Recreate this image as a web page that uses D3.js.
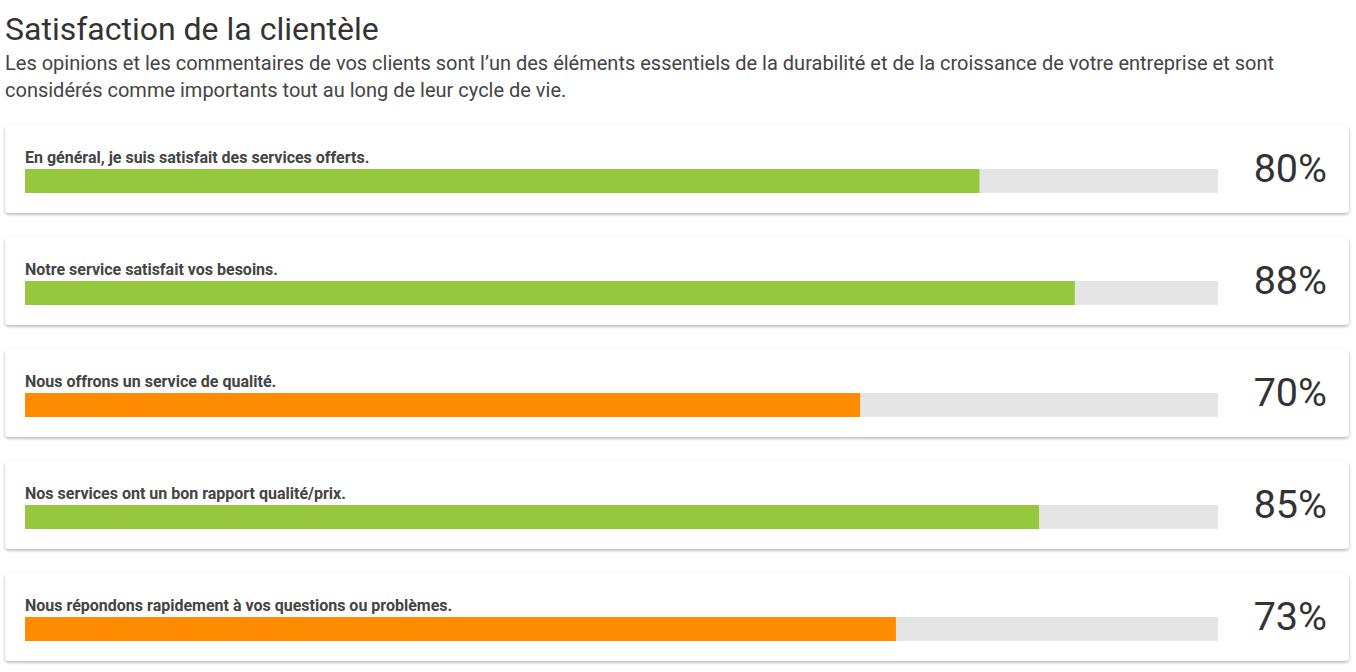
<!DOCTYPE html>
<html>
<head>
<meta charset="utf-8">
<script src="https://cdn.jsdelivr.net/npm/d3@7"></script>
<style>
  body { margin: 0; background: #fff; font-family: Roboto, "Noto Sans", sans-serif; }
</style>
</head>
<body>
<script>
// chart data
var title = "Satisfaction de la clientèle";
var subtitleLines = [
  "Les opinions et les commentaires de vos clients sont l\u2019un des éléments essentiels de la durabilité et de la croissance de votre entreprise et sont",
  "considérés comme importants tout au long de leur cycle de vie."
];
var questions = [
  "En général, je suis satisfait des services offerts.",
  "Notre service satisfait vos besoins.",
  "Nous offrons un service de qualité.",
  "Nos services ont un bon rapport qualité/prix.",
  "Nous répondons rapidement à vos questions ou problèmes."
];
var scores = [80, 88, 70, 85, 73];

var width = 1356,
    height = 672;

var cardX = 5, cardW = 1344, cardH = 88, cardTop = 125, cardStep = 112;
var trackX = 25, trackW = 1193, barH = 24;

var x = d3.scaleLinear().domain([0, 100]).range([0, trackW]);
var y = d3.scaleBand()
    .domain(d3.range(questions.length))
    .range([cardTop, cardTop + cardStep * questions.length])
    .paddingInner(0);

var color = function(v) { return v >= 80 ? "#95c83d" : "#ff8c00"; };

var svg = d3.select("body").append("svg")
    .attr("width", width)
    .attr("height", height);

var defs = svg.append("defs");
var shadow = defs.append("filter")
    .attr("id", "shadow")
    .attr("x", "-5%").attr("y", "-20%")
    .attr("width", "110%").attr("height", "150%");
shadow.append("feDropShadow")
    .attr("dx", 0).attr("dy", 1.5)
    .attr("stdDeviation", 1.5)
    .attr("flood-color", "#000")
    .attr("flood-opacity", 0.3);

svg.append("text")
    .attr("x", 5)
    .attr("y", 40)
    .style("font-size", "32px")
    .style("fill", "#333")
    .text(title);

svg.selectAll("text.sub")
    .data(subtitleLines)
    .enter()
    .append("text")
    .attr("class", "sub")
    .attr("x", 5)
    .attr("y", function(d, i) { return 70 + i * 27; })
    .style("font-size", "20px")
    .style("fill", "#444")
    .text(function(d) { return d; });

var card = svg.selectAll("g.card")
    .data(questions)
    .enter()
    .append("g")
    .attr("class", "card")
    .attr("transform", function(d, i) { return "translate(0," + y(i) + ")"; });

card.append("rect")
    .attr("x", cardX)
    .attr("width", cardW)
    .attr("height", cardH)
    .attr("rx", 4)
    .style("fill", "#fff")
    .attr("filter", "url(#shadow)");

card.append("text")
    .attr("x", trackX)
    .attr("y", 38)
    .style("font-size", "16px")
    .style("font-weight", "bold")
    .style("fill", "#444")
    .text(function(d) { return d; });

card.append("rect")
    .attr("x", trackX)
    .attr("y", 44)
    .attr("width", x(100))
    .attr("height", barH)
    .style("fill", "#e5e5e5");

card.append("rect")
    .attr("x", trackX)
    .attr("y", 44)
    .attr("width", function(d, i) { return x(scores[i]); })
    .attr("height", barH)
    .style("fill", function(d, i) { return color(scores[i]); });

card.append("text")
    .attr("x", 1327)
    .attr("y", 57)
    .attr("text-anchor", "end")
    .style("font-size", "39.5px")
    .style("font-weight", 400)
    .style("fill", "#333")
    .text(function(d, i) { return scores[i] + "%"; });
</script>
</body>
</html>
